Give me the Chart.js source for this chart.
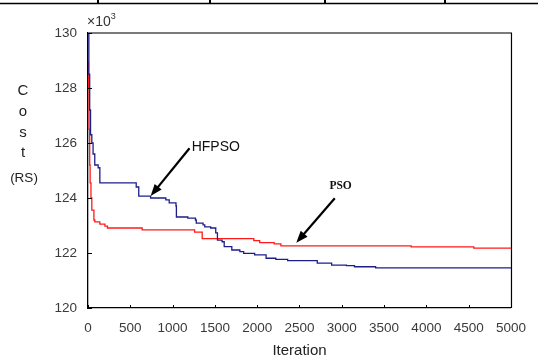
<!DOCTYPE html>
<html>
<head>
<meta charset="utf-8">
<script src="https://cdn.jsdelivr.net/npm/chart.js@4.4.0/dist/chart.umd.min.js"></script>
<style>
  html, body { margin: 0; padding: 0; background: #fff; }
  #wrap { position: relative; width: 538px; height: 360px; }
</style>
</head>
<body>
<div id="wrap"><canvas id="chart" width="538" height="360"></canvas></div>
<script>
'use strict';

// values (cost in thousands of RS)
const hfpsoIter = [0, 10, 20, 30, 45, 60, 80, 120, 140, 570, 600, 740, 920, 960, 1040, 1045, 1180, 1270, 1280, 1360, 1380, 1450, 1510, 1530, 1585, 1610, 1700, 1795, 1840, 1970, 2105, 2220, 2360, 2710, 2880, 3055, 3150, 3400, 5000];
const hfpsoCost = [130.0, 128.5, 127.2, 126.3, 126.0, 125.6, 125.2, 125.1, 124.55, 124.4, 124.07, 124.0, 123.93, 123.82, 123.71, 123.31, 123.27, 123.2, 123.09, 123.02, 122.95, 122.91, 122.73, 122.47, 122.41, 122.23, 122.11, 122.05, 121.99, 121.93, 121.81, 121.77, 121.72, 121.63, 121.56, 121.54, 121.5, 121.46, 121.46];

const psoIter = [0, 5, 12, 20, 25, 35, 45, 70, 80, 140, 200, 230, 640, 1260, 1350, 1960, 2030, 2200, 2280, 3820, 4560, 5000];
const psoCost = [128.95, 128.0, 126.5, 125.2, 124.55, 124.0, 123.56, 123.2, 123.13, 123.05, 122.98, 122.91, 122.84, 122.76, 122.52, 122.45, 122.38, 122.33, 122.26, 122.22, 122.18, 122.18];

const yTicks = [120, 122, 124, 126, 128, 130];
const xTicks = [0, 500, 1000, 1500, 2000, 2500, 3000, 3500, 4000, 4500, 5000];

// callouts, in data units
const calloutText = ['HFPSO', 'PSO'];
const calloutAt = [[1510, 125.85], [2986, 124.43]];
const arrowFrom = [[1200, 125.81], [2917, 123.99]];
const arrowTo = [[740, 124.07], [2462, 122.37]];

const SANS = "'Liberation Sans', Arial, sans-serif";

function toPts(xs, ys) { return xs.map((x, i) => ({ x, y: ys[i] })); }

function arrow(ctx, x1, y1, x2, y2) {
  const a = Math.atan2(y2 - y1, x2 - x1);
  const c = Math.cos(a), s = Math.sin(a);
  ctx.beginPath();
  ctx.moveTo(x1, y1);
  ctx.lineTo(x2 - 8 * c, y2 - 8 * s);
  ctx.lineWidth = 2.2;
  ctx.stroke();
  ctx.beginPath();
  ctx.moveTo(x2, y2);
  ctx.lineTo(x2 - 12 * c + 4.5 * s, y2 - 12 * s - 4.5 * c);
  ctx.lineTo(x2 - 12 * c - 4.5 * s, y2 - 12 * s + 4.5 * c);
  ctx.closePath();
  ctx.fill();
}

const decor = {
  id: 'decor',
  afterDraw(chart) {
    const { ctx, chartArea: a, scales: { x, y } } = chart;
    ctx.save();

    // leftover table rule across the top of the page
    ctx.strokeStyle = '#000'; ctx.lineWidth = 1.5;
    ctx.beginPath(); ctx.moveTo(0, 3.5); ctx.lineTo(538, 3.5); ctx.stroke();
    ctx.lineWidth = 2;
    [98, 210, 325, 445].forEach(px => { ctx.beginPath(); ctx.moveTo(px, 0); ctx.lineTo(px, 4); ctx.stroke(); });

    // box: grey top, black right
    ctx.strokeStyle = '#7a7a7a'; ctx.lineWidth = 1.8;
    ctx.beginPath(); ctx.moveTo(a.left, a.top); ctx.lineTo(a.right + 1, a.top); ctx.stroke();
    ctx.strokeStyle = '#000'; ctx.lineWidth = 1.2;
    ctx.beginPath(); ctx.moveTo(a.right + 0.5, a.top); ctx.lineTo(a.right + 0.5, a.bottom); ctx.stroke();

    // inward tick marks
    ctx.lineWidth = 1;
    yTicks.forEach(v => { const py = Math.round(y.getPixelForValue(v)) + 0.5; ctx.beginPath(); ctx.moveTo(a.left, py); ctx.lineTo(a.left + 4, py); ctx.stroke(); });
    xTicks.forEach(v => { const px = Math.round(x.getPixelForValue(v)) + 0.5; ctx.beginPath(); ctx.moveTo(px, a.bottom); ctx.lineTo(px, a.bottom - 3); ctx.stroke(); });

    // multiplier
    ctx.fillStyle = '#333';
    ctx.textBaseline = 'alphabetic'; ctx.textAlign = 'left';
    ctx.font = `14px ${SANS}`;
    ctx.fillText('×10', a.left - 1, a.top - 7);
    const w = ctx.measureText('×10').width;
    ctx.font = `9px ${SANS}`;
    ctx.fillText('3', a.left - 1 + w, a.top - 14);

    // stacked y title
    ctx.fillStyle = '#222'; ctx.textAlign = 'center'; ctx.textBaseline = 'middle';
    ctx.font = `15px ${SANS}`;
    ['C', 'o', 's', 't'].forEach((ch, i) => ctx.fillText(ch, 23, 91 + i * 20.7));
    ctx.font = `13.5px ${SANS}`;
    ctx.fillText('(RS)', 24, 178);

    // callouts
    ctx.strokeStyle = '#000';
    calloutText.forEach((t, i) => {
      ctx.font = i === 0 ? `14px ${SANS}` : `bold 11.5px 'Liberation Serif', 'Times New Roman', serif`;
      ctx.fillStyle = '#111';
      ctx.fillText(t, x.getPixelForValue(calloutAt[i][0]), y.getPixelForValue(calloutAt[i][1]));
      ctx.fillStyle = '#000';
      arrow(ctx, x.getPixelForValue(arrowFrom[i][0]), y.getPixelForValue(arrowFrom[i][1]),
        x.getPixelForValue(arrowTo[i][0]), y.getPixelForValue(arrowTo[i][1]));
    });
    ctx.restore();
  }
};

new Chart(document.getElementById('chart'), {
  type: 'line',
  data: {
    datasets: [
      { label: 'HFPSO', data: toPts(hfpsoIter, hfpsoCost), borderColor: '#1e1e8a', borderWidth: 1.3, stepped: true, pointRadius: 0, fill: false },
      { label: 'PSO', data: toPts(psoIter, psoCost), borderColor: '#ff1a1a', borderWidth: 1.3, stepped: true, pointRadius: 0, fill: false }
    ]
  },
  options: {
    responsive: false,
    animation: false,
    devicePixelRatio: 1,
    layout: { padding: { top: 33, right: 18, left: 0, bottom: 0 } },
    plugins: { legend: { display: false }, tooltip: { enabled: false } },
    scales: {
      x: {
        type: 'linear', min: 0, max: 5000,
        afterBuildTicks: s => { s.ticks = xTicks.map(v => ({ value: v })); },
        ticks: { font: { family: SANS, size: 13.5 }, color: '#3a3a3a', padding: 12, maxRotation: 0, autoSkip: false, callback: v => String(v) },
        grid: { display: false, drawTicks: false },
        border: { color: '#000', width: 1.3 },
        title: { display: true, text: 'Iteration', font: { family: SANS, size: 15 }, color: '#222', padding: 0 },
        afterFit: s => { s.height = 52; }
      },
      y: {
        type: 'linear', min: 120, max: 130,
        afterBuildTicks: s => { s.ticks = yTicks.map(v => ({ value: v })); },
        ticks: { font: { family: SANS, size: 13.5 }, color: '#3a3a3a', padding: 11, callback: v => String(v) },
        grid: { display: false, drawTicks: false },
        border: { color: '#000', width: 1.3 },
        afterFit: s => { s.width = 88; }
      }
    }
  },
  plugins: [decor]
});
</script>
</body>
</html>
